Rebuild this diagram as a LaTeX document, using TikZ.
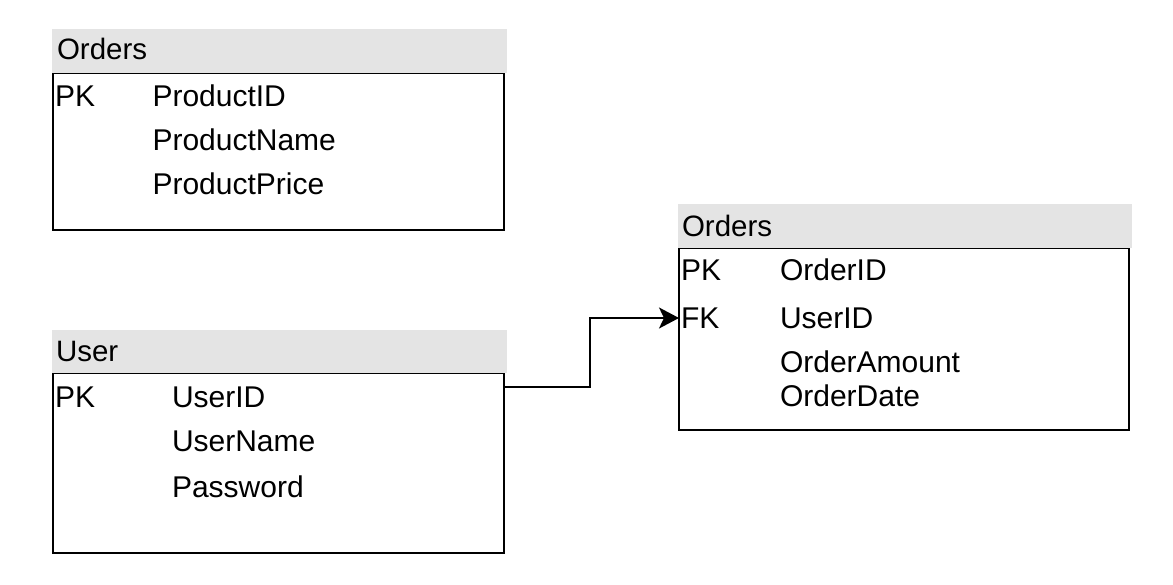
\documentclass[tikz,border=0pt]{standalone}
\usepackage{fontspec}
\setmainfont{Liberation Sans}
\usetikzlibrary{arrows.meta}
\definecolor{hdrgray}{HTML}{E4E4E4}
\tikzset{
  tblbody/.style={draw=black, line width=2pt, fill=white, rectangle, inner sep=0pt, outer sep=0pt, anchor=north west},
  tblhead/.style={fill=hdrgray, draw=none, rectangle, inner sep=0pt, outer sep=0pt, anchor=north west, minimum width=455pt, minimum height=44pt},
  txt/.style={inner sep=0pt, outer sep=0pt, anchor=base west, font=\fontsize{30}{36}\selectfont},
  ttl/.style={inner sep=0pt, outer sep=0pt, anchor=base west, font=\fontsize{29.5}{35}\selectfont},
  conn/.style={draw=black, line width=2pt, -{Stealth[length=20pt,width=21pt,inset=5pt]}}
}
\begin{document}
\begin{tikzpicture}[x=1pt,y=-1pt]
\useasboundingbox (0,0) rectangle (1173,585);
% Table A (top left)
\node[tblbody, minimum width=450.5pt, minimum height=157pt] (bA) at (53,73) {};
\node[tblhead] (hA) at (52,29) {};
\node[ttl] (tA) at (57,60) {Orders};
\node[txt] (kA1) at (55,107) {PK};
\node[txt] (fA1) at (152.5,107) {ProductID};
\node[txt] (fA2) at (152.5,151) {ProductName};
\node[txt] (fA3) at (152.5,195) {ProductPrice};
% Table B (User)
\node[tblbody, minimum width=450.5pt, minimum height=180pt] (bB) at (53,373) {};
\node[tblhead, minimum height=43pt] (hB) at (52,330) {};
\node[ttl] (tB) at (56,362) {User};
\node[txt] (kB1) at (55,407.5) {PK};
\node[txt] (fB1) at (172,407.5) {UserID};
\node[txt] (fB2) at (172,451.5) {UserName};
\node[txt] (fB3) at (172,497) {Password};
% Table C (Orders right)
\node[tblbody, minimum width=449.5pt, minimum height=182pt] (bC) at (679,248) {};
\node[tblhead, minimum width=454pt] (hC) at (678,204) {};
\node[ttl] (tC) at (682,236.5) {Orders};
\node[txt] (kC1) at (681,280.5) {PK};
\node[txt] (fC1) at (780,280.5) {OrderID};
\node[txt] (kC2) at (681,328.5) {FK};
\node[txt] (fC2) at (780,328.5) {UserID};
\node[txt] (fC3) at (780,372.5) {OrderAmount};
\node[txt] (fC4) at (780,406.5) {OrderDate};
% Connector
\draw[conn] ([yshift=-14pt]bB.north east) -| ([xshift=-89pt,yshift=-70pt]bC.north west) -- ([yshift=-70pt]bC.north west);
\end{tikzpicture}
\end{document}
